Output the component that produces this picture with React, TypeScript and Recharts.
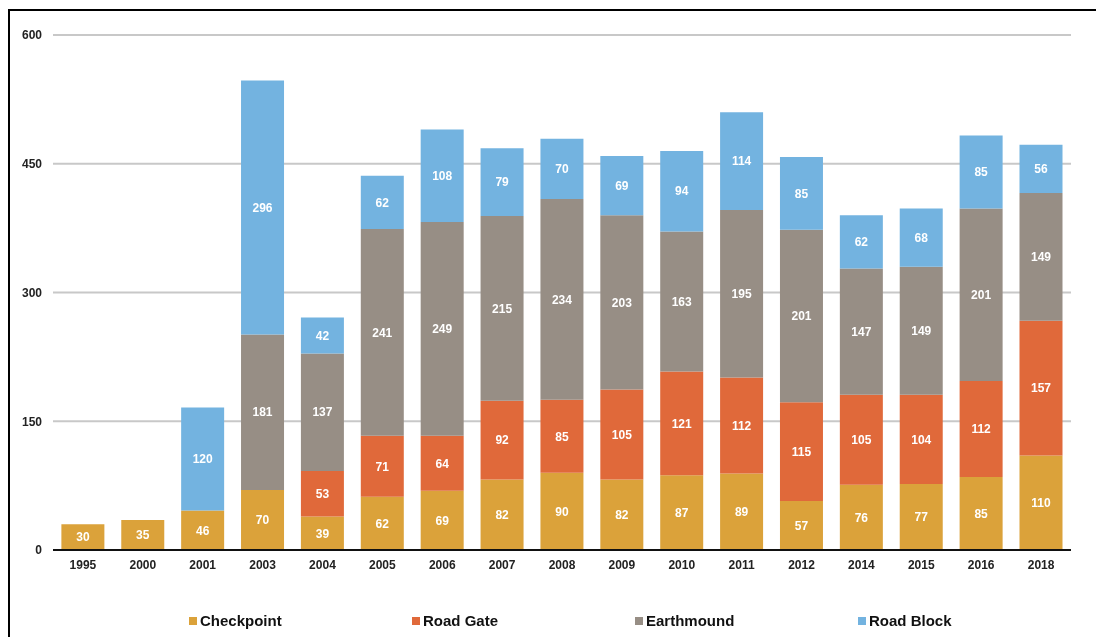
import React from "react";
import { BarChart, Bar, XAxis, YAxis, CartesianGrid, LabelList } from "recharts";

const years = ["1995","2000","2001","2003","2004","2005","2006","2007","2008","2009","2010","2011","2012","2014","2015","2016","2018"];
const checkpoint = [30,35,46,70,39,62,69,82,90,82,87,89,57,76,77,85,110];
const roadGate = [null,null,null,null,53,71,64,92,85,105,121,112,115,105,104,112,157];
const earthmound = [null,null,null,181,137,241,249,215,234,203,163,195,201,147,149,201,149];
const roadBlock = [null,null,120,296,42,62,108,79,70,69,94,114,85,62,68,85,56];
const yTicks = [0,150,300,450,600];

const seriesNames = ["Checkpoint","Road Gate","Earthmound","Road Block"];
const seriesKeys = ["checkpoint","roadGate","earthmound","roadBlock"];
const seriesColors = ["#DBA23A","#E0693A","#978E85","#73B3E0"];

const data = years.map((y, i) => ({
  year: y,
  checkpoint: checkpoint[i],
  roadGate: roadGate[i],
  earthmound: earthmound[i],
  roadBlock: roadBlock[i],
}));

const FONT = "'Liberation Sans', Arial, sans-serif";

export default function App() {
  return (
    <div style={{ position: "relative", width: 1080, height: 621, overflow: "hidden", fontFamily: FONT }}>
      <div style={{ position: "fixed", left: 8, top: 9, width: 2000, height: 2000, borderLeft: "2px solid #000", borderTop: "2px solid #000", boxSizing: "border-box", pointerEvents: "none" }} />
      <div style={{ position: "absolute", left: 0, top: 0 }}>
        <BarChart
          width={1080}
          height={600}
          data={data}
          margin={{ top: 27, right: 17, left: 0, bottom: 28 }}
          barCategoryGap="14%"
        >
          <CartesianGrid vertical={false} stroke="#C8C8C8" strokeWidth={2} />
          <XAxis
            dataKey="year"
            axisLine={{ stroke: "#111", strokeWidth: 2 }}
            tickLine={false}
            tickSize={0}
            tickMargin={10}
            height={30}
            interval={0}
            tick={{ fill: "#222", fontSize: 12, fontWeight: 700, fontFamily: FONT }}
          />
          <YAxis
            domain={[0, 600]}
            ticks={yTicks}
            axisLine={false}
            tickLine={false}
            tickSize={0}
            tickMargin={11}
            width={45}
            tick={{ fill: "#222", fontSize: 12, fontWeight: 700, fontFamily: FONT }}
          />
          {seriesKeys.map((k, i) => (
            <Bar key={k} dataKey={k} stackId="a" fill={seriesColors[i]} isAnimationActive={false}>
              <LabelList
                dataKey={k}
                position="center"
                fill="#fff"
                fontSize={12}
                fontWeight={700}
                fontFamily={FONT}
              />
            </Bar>
          ))}
        </BarChart>
      </div>
      {seriesNames.map((n, i) => (
        <div
          key={n}
          style={{
            position: "absolute",
            left: 181 + i * 223,
            top: 604,
            display: "flex",
            alignItems: "center",
            fontSize: 15,
            fontWeight: 700,
            color: "#111",
          }}
        >
          <span style={{ display: "inline-block", width: 8, height: 8, background: seriesColors[i], marginRight: 3 }} />
          {n}
        </div>
      ))}
    </div>
  );
}
